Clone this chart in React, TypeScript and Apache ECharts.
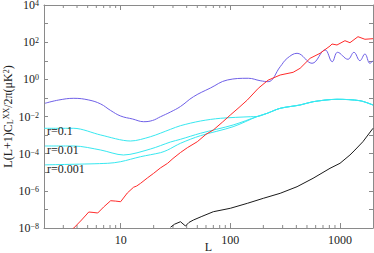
import React, { useEffect, useRef } from "react";
import * as echarts from "echarts";

// ---- data (L, L(L+1)C_L/2pi in uK^2) ----
const blueL = [2.04, 2.73, 3.74, 5.12, 6.58, 8.11, 10, 12.85, 16.2, 19.5, 23.1, 28.5, 35.1, 46.1, 65.8, 93.9, 146, 187, 221, 285, 330, 406, 556, 731, 850, 950, 1182, 1340, 1520, 1688, 1874, 2000];
const blueV = [0.0513, 0.0773, 0.0953, 0.0773, 0.0471, 0.021, 0.0106, 0.00733, 0.00525, 0.0061, 0.00975, 0.0175, 0.0345, 0.116, 0.34, 0.92, 1.14, 0.844, 0.746, 4.78, 13.5, 25.2, 7.29, 38.5, 8.89, 28.5, 12.0, 28.5, 10.1, 23.1, 7.29, 10.1];

const redL = [3.5, 3.74, 4.4, 5.12, 5.6, 6.18, 7.0, 8.11, 9.0, 10, 11.5, 13.1, 14, 15.2, 17.5, 20, 23, 26.8, 30, 35.1, 40.6, 50, 60, 70, 85, 100, 120, 143, 180, 221, 285, 374, 433, 534, 658, 811, 846, 939, 1110, 1233, 1459, 1688, 2000];
const redV = [7e-9, 1e-8, 2.69e-8, 7.26e-8, 6.9e-8, 6.41e-8, 1.35e-7, 2.94e-7, 2.8e-7, 2.6e-7, 7.64e-7, 1.55e-6, 1.82e-6, 2.54e-6, 4.9e-6, 8.77e-6, 1.69e-5, 3.03e-5, 5.5e-5, 1.15e-4, 2.1e-4, 4.4e-4, 1.1e-3, 0.00188, 0.00506, 0.012, 0.0305, 0.0773, 0.33, 0.9, 1.71, 2.39, 3.93, 13.5, 25.2, 62.2, 79.6, 70.4, 120, 93.6, 197, 143, 154];

// shared high-L part of the three tensor curves
const tailL = [176, 217, 285, 433, 568, 939, 1520, 2000];
const tailV = [0.01, 0.0149, 0.0276, 0.0416, 0.0625, 0.0843, 0.0708, 0.0416];

const r1L = [2.0, 3.74, 6.58, 12.3, 18.7, 28.5, 35.1, 53.4, 81.1, 152];
const r1V = [0.00232, 0.00232, 0.00101, 0.00048, 0.000818, 0.00205, 0.0032, 0.00571, 0.008, 0.00975];

const r01L = [2.04, 3.74, 6.58, 10.6, 18.7, 28.5, 35.1, 53.4, 106];
const r01V = [0.000259, 0.000259, 0.000157, 0.0000848, 0.000178, 0.000425, 0.000593, 0.00125, 0.00349];

const r001L = [2.04, 7.62, 10, 15.2, 23.1, 26.8, 35.1, 53.4, 106];
const r001V = [0.000025, 0.0000303, 0.000037, 0.0000687, 0.000113, 0.000157, 0.000361, 0.000927, 0.00282];

const blackL = [28.5, 31, 35.1, 39.0, 42, 46.1, 55, 70, 100, 143, 200, 285, 406, 568, 811, 1000, 1233, 1369, 1618, 2000];
const blackV = [1.1e-8, 1.6e-8, 2.18e-8, 1.28e-8, 2.0e-8, 2.69e-8, 4.2e-8, 7.53e-8, 1.15e-7, 2.13e-7, 3.96e-7, 7.36e-7, 1.67e-6, 4.72e-6, 1.63e-5, 3.03e-5, 8.48e-5, 1.57e-4, 4.4e-4, 0.00232];

const xMinorTicks = [3, 4, 5, 6, 7, 8, 9, 20, 30, 40, 50, 60, 70, 80, 90, 200, 300, 400, 500, 600, 700, 800, 900];
const xMin = 2, xMax = 2000, yMin = 1e-8, yMax = 1e4;

const rLabels = ["r=0.1", "r=0.01", "r=0.001"];

const FONT = "Liberation Serif";
const AXC = "#8a8a8a";

function pairs(L: number[], V: number[]) {
  return L.map((l, i) => [l, V[i]]);
}

export default function App() {
  const ref = useRef<HTMLDivElement>(null);
  useEffect(() => {
    if (!ref.current) return;
    const chart = echarts.init(ref.current, null, { renderer: "svg" });
    const sup = (e: number) => (e < 0 ? "\u2212" + -e : String(e));
    const xAxisBase = {
      type: "log",
      logBase: 10,
      min: xMin,
      max: xMax,
      axisLine: { show: true, lineStyle: { color: AXC, width: 1 } },
      axisTick: { show: true, inside: true, length: 5, lineStyle: { color: AXC } },
      splitLine: { show: false },
    };
    const yAxisBase = {
      type: "log",
      logBase: 10,
      min: yMin,
      max: yMax,
      interval: 1,
      axisLine: { show: true, lineStyle: { color: AXC, width: 1 } },
      axisTick: { show: true, inside: true, length: 4, interval: 0, lineStyle: { color: AXC } },
      splitLine: { show: false },
    };
    const lineS = (name: string, L: number[], V: number[], color: string, smooth: number | boolean) => ({
      name,
      type: "line",
      data: pairs(L, V),
      showSymbol: false,
      smooth,
      clip: true,
      lineStyle: { color, width: 1 },
      itemStyle: { color },
      z: 3,
    });
    chart.setOption({
      animation: false,
      backgroundColor: "#ffffff",
      grid: { left: 44, right: 1, top: 5, bottom: 25, containLabel: false, outerBoundsMode: "none" },
      xAxis: [
        {
          ...xAxisBase,
          position: "bottom",
          name: "L",
          nameLocation: "middle",
          nameGap: 13,
          nameMoveOverlap: false,
          nameTextStyle: { fontFamily: FONT, fontSize: 12, color: "#222", lineHeight: 11 },
          axisLabel: {
            show: true,
            margin: 6,
            fontFamily: FONT,
            fontSize: 12,
            color: "#222",
            showMinLabel: false,
            showMaxLabel: false,
            formatter: (v: number) => {
              const e = Math.log10(v);
              return Math.abs(e - Math.round(e)) < 1e-6 ? String(Math.round(v)) : "";
            },
          },
        },
        { ...xAxisBase, position: "top", axisLabel: { show: false } },
      ],
      yAxis: [
        {
          ...yAxisBase,
          position: "left",
          name: "{n|L(L+1)C}{sub|L}{sup|XX}{n|/2\u03c0(\u03bcK}{sup|2}{n|)}",
          nameLocation: "middle",
          nameRotate: 90,
          nameGap: 30,
          nameMoveOverlap: false,
          nameTextStyle: {
            rich: {
              n: { fontFamily: FONT, fontSize: 12, color: "#222" },
              sub: { fontFamily: FONT, fontSize: 8, color: "#222", verticalAlign: "bottom" },
              sup: { fontFamily: FONT, fontSize: 8, color: "#222", verticalAlign: "top" },
            },
          },
          axisLabel: {
            show: true,
            margin: 5,
            align: "right",
            formatter: (v: number) => {
              const e = Math.round(Math.log10(v));
              if (e % 2 !== 0) return "";
              return `{b|10}{s|${sup(e)}}`;
            },
            rich: {
              b: { fontFamily: FONT, fontSize: 12, color: "#222", lineHeight: 11 },
              s: { fontFamily: FONT, fontSize: 8, color: "#222", verticalAlign: "top", lineHeight: 8 },
            },
          },
        },
        { ...yAxisBase, position: "right", axisLabel: { show: false } },
      ],
      series: [
        {
          type: "custom",
          coordinateSystem: "cartesian2d",
          xAxisIndex: 0,
          yAxisIndex: 0,
          silent: true,
          z: 1,
          data: xMinorTicks.map((l) => [l, yMin]),
          renderItem: (params: any, api: any) => {
            const l = api.value(0);
            const b = api.coord([l, yMin]);
            const t = api.coord([l, yMax]);
            const st = { stroke: AXC, lineWidth: 1 };
            return {
              type: "group",
              children: [
                { type: "line", shape: { x1: b[0], y1: b[1], x2: b[0], y2: b[1] - 3 }, style: st },
                { type: "line", shape: { x1: t[0], y1: t[1], x2: t[0], y2: t[1] + 3 }, style: st },
              ],
            };
          },
        },
        lineS("r=0.1", r1L.concat(tailL), r1V.concat(tailV), "#38e8f0", 0.3),
        lineS("r=0.01", r01L.concat(tailL), r01V.concat(tailV), "#38e8f0", 0.3),
        lineS("r=0.001", r001L.concat(tailL), r001V.concat(tailV), "#38e8f0", 0.3),
        lineS("black", blackL, blackV, "#1a1a1a", false),
        lineS("blue", blueL, blueV, "#6f60e8", 0.4),
        lineS("red", redL, redV, "#ff2a2a", false),
      ],
      graphic: rLabels.map((t, i) => ({
        type: "text",
        left: 47,
        top: [125, 144, 163][i],
        style: { text: t, fontFamily: FONT, fontSize: 12, fill: "#222" },
        z: 10,
      })),
    });
    return () => chart.dispose();
  }, []);
  return (
    <div
      ref={ref}
      style={{ position: "fixed", left: 0, top: 0, width: 374, height: 253, background: "#fff" }}
    />
  );
}
